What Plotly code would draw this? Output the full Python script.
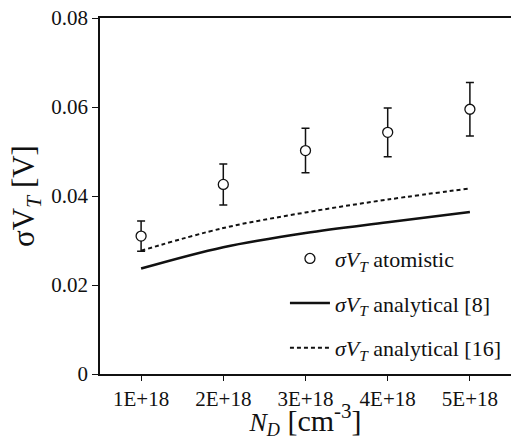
import plotly.graph_objects as go

# Doping concentrations (categories) and threshold-voltage spread values
categories = ["1E+18", "2E+18", "3E+18", "4E+18", "5E+18"]
atomistic = [0.0310, 0.0426, 0.0502, 0.0543, 0.0595]
atomistic_err = [0.0034, 0.0046, 0.0050, 0.0055, 0.0060]
analytical_8 = [0.0237, 0.0285, 0.0317, 0.0341, 0.0364]
analytical_16 = [0.0277, 0.0328, 0.0363, 0.0392, 0.0417]

y_ticks = [0, 0.02, 0.04, 0.06, 0.08]
y_tick_text = ["0", "0.02", "0.04", "0.06", "0.08"]

serif = "Liberation Serif"
ink = "#111111"

fig = go.Figure()

fig.add_trace(go.Scatter(
    x=categories, y=atomistic, mode="markers",
    name="<i>σV<sub>T</sub></i> atomistic", legendgroup="a",
    marker=dict(symbol="circle", size=10, color="white",
                line=dict(color=ink, width=1.3)),
    error_y=dict(type="data", array=atomistic_err, visible=True,
                 color=ink, thickness=1.5, width=4),
))
fig.add_trace(go.Scatter(
    x=categories, y=analytical_8, mode="lines",
    name="<i>σV<sub>T</sub></i> analytical [8]", legendgroup="b",
    line=dict(color=ink, width=2.5, shape="spline"),
))
fig.add_trace(go.Scatter(
    x=categories, y=analytical_16, mode="lines",
    name="<i>σV<sub>T</sub></i> analytical [16]", legendgroup="c",
    line=dict(color=ink, width=2, dash="4px,3px", shape="spline"),
))

# y-axis title as a rotated annotation
fig.add_annotation(
    text="σV<sub><i>T</i></sub> [V]", textangle=-90,
    xref="paper", yref="paper", x=-0.18, y=0.5,
    xanchor="center", yanchor="middle", showarrow=False,
    font=dict(family=serif, size=31, color=ink),
)

x_title = ('<span style="font-size:26px"><i>N<sub>D</sub></i></span>'
           ' [cm<sup>-3</sup>]')

fig.update_layout(
    width=511, height=440,
    margin=dict(l=100, r=0, t=18, b=66),
    paper_bgcolor="white", plot_bgcolor="white",
    font=dict(family=serif, color=ink, size=20),
    showlegend=True,
    legend=dict(
        x=0.45, y=0.383, xanchor="left", yanchor="top",
        bgcolor="rgba(0,0,0,0)", font=dict(family=serif, size=22, color=ink),
        tracegroupgap=13, itemwidth=40,
    ),
    xaxis=dict(
        type="category", range=[-0.5, 4.5],
        showline=True, linecolor=ink, linewidth=1.5, mirror=True,
        ticks="outside", ticklen=5, tickwidth=1.2, tickcolor=ink,
        showgrid=False, zeroline=False,
        tickfont=dict(family=serif, size=21, color=ink),
        title=dict(text=x_title,
                   font=dict(family=serif, size=30, color=ink), standoff=6),
    ),
    yaxis=dict(
        range=[0, 0.08], tickvals=y_ticks, ticktext=y_tick_text,
        showline=True, linecolor=ink, linewidth=1.5,
        ticks="outside", ticklen=6, tickwidth=1.2, tickcolor=ink,
        showgrid=False, zeroline=False,
        tickfont=dict(family=serif, size=21, color=ink),
    ),
)

fig.write_html("out.html")
